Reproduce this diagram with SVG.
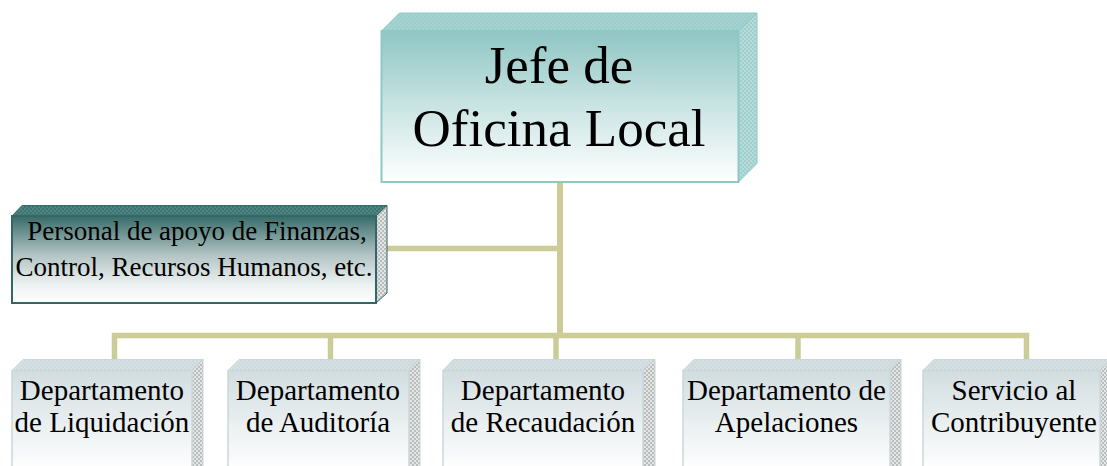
<svg xmlns="http://www.w3.org/2000/svg" width="1107" height="466" viewBox="0 0 1107 466">
  <defs>
    <linearGradient id="gTop" x1="0" y1="0" x2="0" y2="1">
      <stop offset="0" stop-color="#8fc6c3"/>
      <stop offset="0.55" stop-color="#cfe7e6"/>
      <stop offset="1" stop-color="#ffffff"/>
    </linearGradient>
    <linearGradient id="gSup" x1="0" y1="0" x2="0" y2="1">
      <stop offset="0" stop-color="#376b69"/>
      <stop offset="0.45" stop-color="#b3c4c4"/>
      <stop offset="0.8" stop-color="#eef2f2"/>
      <stop offset="1" stop-color="#ffffff"/>
    </linearGradient>
    <linearGradient id="gDep" x1="0" y1="0" x2="0" y2="1">
      <stop offset="0" stop-color="#d2dde0"/>
      <stop offset="1" stop-color="#ffffff"/>
    </linearGradient>
    <pattern id="pTeal" width="4" height="4" patternUnits="userSpaceOnUse">
      <rect width="4" height="4" fill="#b9dcdb"/>
      <rect width="2" height="2" fill="#9fcfcd"/>
      <rect x="2" y="2" width="2" height="2" fill="#9fcfcd"/>
    </pattern>
    <pattern id="pTealTop" width="4" height="4" patternUnits="userSpaceOnUse">
      <rect width="4" height="4" fill="#a6d3d1"/>
      <rect width="2" height="2" fill="#9ccecc"/>
      <rect x="2" y="2" width="2" height="2" fill="#9ccecc"/>
    </pattern>
    <pattern id="pDark" width="4" height="4" patternUnits="userSpaceOnUse">
      <rect width="4" height="4" fill="#3d7472"/>
      <rect width="2" height="2" fill="#4e8482"/>
      <rect x="2" y="2" width="2" height="2" fill="#4e8482"/>
    </pattern>
    <pattern id="pGraySide" width="4" height="4" patternUnits="userSpaceOnUse">
      <rect width="4" height="4" fill="#e4e6e6"/>
      <rect width="2" height="2" fill="#b9bdbd"/>
      <rect x="2" y="2" width="2" height="2" fill="#b9bdbd"/>
    </pattern>
    <pattern id="pGrayTop" width="4" height="4" patternUnits="userSpaceOnUse">
      <rect width="4" height="4" fill="#d6e0e2"/>
      <rect width="2" height="2" fill="#cdd9dc"/>
      <rect x="2" y="2" width="2" height="2" fill="#cdd9dc"/>
    </pattern>
  </defs>
  <style>
    .conn { fill: none; stroke: #cccc99; stroke-linejoin: miter; stroke-linecap: butt; }
    .txt { font-family: "Liberation Serif", "Times New Roman", serif; fill: #000000; text-anchor: middle; }
    .big { font-size: 53px; }
    .sup { font-size: 27px; }
    .dep { font-size: 29px; }
    .topFront { fill: url(#gTop); stroke: #8cc9c6; stroke-width: 2; }
    .topTop { fill: url(#pTealTop); stroke: #8cc9c6; stroke-width: 1; }
    .topSide { fill: url(#pTeal); stroke: #8cc9c6; stroke-width: 1; }
    .supFront { fill: url(#gSup); stroke: #336765; stroke-width: 2; }
    .supTop { fill: url(#pDark); stroke: #336765; stroke-width: 1; }
    .supSide { fill: url(#pGraySide); stroke: #336765; stroke-width: 1; }
    .depFront { fill: url(#gDep); stroke: #cad7da; stroke-width: 1.5; }
    .depTop { fill: url(#pGrayTop); stroke: #cad7da; stroke-width: 1; }
    .depSide { fill: url(#pGraySide); stroke: #c8d2d4; stroke-width: 1; }
  </style>
  <rect width="1107" height="466" fill="#ffffff"/>

  <g id="connectors">
    <path class="conn" d="M560,182 V335.5" stroke-width="6"/>
    <path class="conn" d="M387,248.5 H560" stroke-width="5.5"/>
    <path class="conn" d="M114.5,362 V335.5 H1026.5 V362" stroke-width="5.5"/>
    <path class="conn" d="M330.5,335.5 V362" stroke-width="5.5"/>
    <path class="conn" d="M556,335.5 V362" stroke-width="5.5"/>
    <path class="conn" d="M798,335.5 V362" stroke-width="5.5"/>
  </g>

  <g id="jefe">
    <polygon class="topTop" points="381.5,31 399.5,13 757,13 738.5,31"/>
    <polygon class="topSide" points="738.5,31 757,13 757,163.5 738.5,182"/>
    <rect class="topFront" x="381.5" y="31" width="357" height="151"/>
    <text class="txt big" x="559" y="83">Jefe de</text>
    <text class="txt big" x="559" y="145.5">Oficina Local</text>
  </g>

  <g id="apoyo">
    <polygon class="supTop" points="12,216 22,205.5 387,205.5 376,216"/>
    <polygon class="supSide" points="376,216 387,205.5 387,293 376,303"/>
    <rect class="supFront" x="12" y="216" width="364" height="87"/>
    <text class="txt sup" x="197" y="240">Personal de apoyo de Finanzas,</text>
    <text class="txt sup" x="194" y="276">Control, Recursos Humanos, etc.</text>
  </g>

  <g id="liquidacion">
    <polygon class="depTop" points="12,370.5 23,359.5 203,359.5 192,370.5"/>
    <polygon class="depSide" points="192,370.5 203,359.5 203,470 192,470"/>
    <rect class="depFront" x="12" y="370.5" width="180" height="100"/>
    <text class="txt dep" x="102" y="400">Departamento</text>
    <text class="txt dep" x="102" y="432">de Liquidación</text>
  </g>

  <g id="auditoria">
    <polygon class="depTop" points="228,370.5 239,359.5 420,359.5 409,370.5"/>
    <polygon class="depSide" points="409,370.5 420,359.5 420,470 409,470"/>
    <rect class="depFront" x="228" y="370.5" width="181" height="100"/>
    <text class="txt dep" x="318" y="400">Departamento</text>
    <text class="txt dep" x="318" y="432">de Auditoría</text>
  </g>

  <g id="recaudacion">
    <polygon class="depTop" points="443,370.5 453.5,359.5 655,359.5 643,370.5"/>
    <polygon class="depSide" points="643,370.5 655,359.5 655,470 643,470"/>
    <rect class="depFront" x="443" y="370.5" width="200" height="100"/>
    <text class="txt dep" x="543" y="400">Departamento</text>
    <text class="txt dep" x="543" y="432">de Recaudación</text>
  </g>

  <g id="apelaciones">
    <polygon class="depTop" points="683,370.5 694,359.5 901,359.5 890,370.5"/>
    <polygon class="depSide" points="890,370.5 901,359.5 901,470 890,470"/>
    <rect class="depFront" x="683" y="370.5" width="207" height="100"/>
    <text class="txt dep" x="786.5" y="400">Departamento de</text>
    <text class="txt dep" x="786.5" y="432">Apelaciones</text>
  </g>

  <g id="contribuyente">
    <polygon class="depTop" points="923,370.5 934,359.5 1111,359.5 1100,370.5"/>
    <polygon class="depSide" points="1100,370.5 1111,359.5 1111,470 1100,470"/>
    <rect class="depFront" x="923" y="370.5" width="177" height="100"/>
    <text class="txt dep" x="1014" y="400">Servicio al</text>
    <text class="txt dep" x="1014" y="432">Contribuyente</text>
  </g>
</svg>
